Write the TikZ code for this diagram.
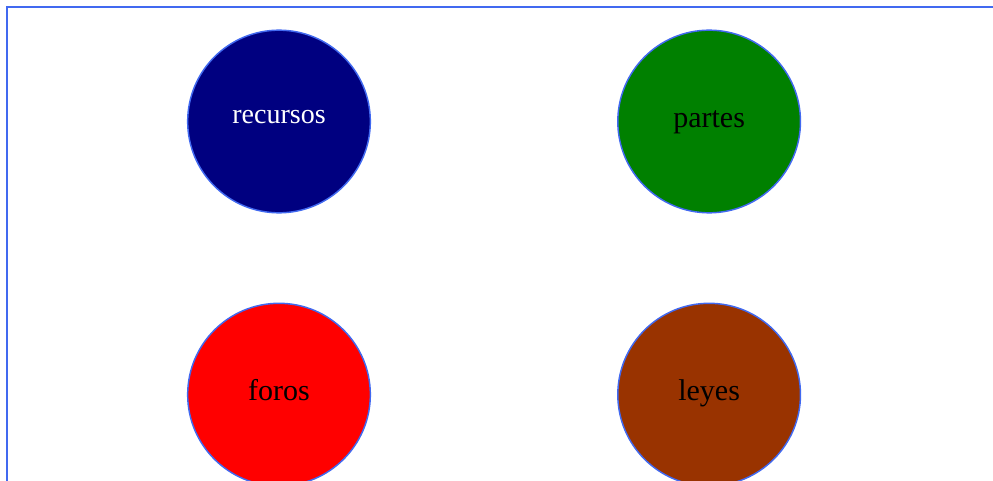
\documentclass[tikz,border=0pt]{standalone}
\usepackage{fontspec}
\setmainfont{Liberation Serif}
\usepackage{xcolor}
\usetikzlibrary{positioning}

\definecolor{edgeblue}{RGB}{65,105,240}
\definecolor{navyfill}{RGB}{0,0,128}
\definecolor{greenfill}{RGB}{0,128,0}
\definecolor{redfill}{RGB}{255,0,0}
\definecolor{brownfill}{RGB}{153,51,0}

\begin{document}
\begin{tikzpicture}[
    x=0.75pt, y=-0.75pt,
    node distance=66.75pt and 184.5pt,
    topic/.style={circle, draw=edgeblue, line width=1.1pt,
                  minimum size=137pt, inner sep=0pt,
                  font=\fontsize{22.5}{25}\selectfont,
                  text height=1em, text depth=0.15em},
    frame/.style={draw=edgeblue, line width=1.1pt}
]
\useasboundingbox (0,0) rectangle (993,481);
\clip (0,0) rectangle (993,481);
\draw[frame] (7,7) rectangle (1010,500);

\node[topic, fill=navyfill, text=white,
      font=\fontsize{21}{24}\selectfont,
      text height=0.5em, text depth=0.18em] (rec) at (279,121.5) {recursos};
\node[topic, fill=greenfill, right=of rec]  (par) {partes};
\node[topic, fill=redfill, below=of rec]    (for) {foros};
\node[topic, fill=brownfill, below=of par]  (ley) {leyes};
\end{tikzpicture}
\end{document}
